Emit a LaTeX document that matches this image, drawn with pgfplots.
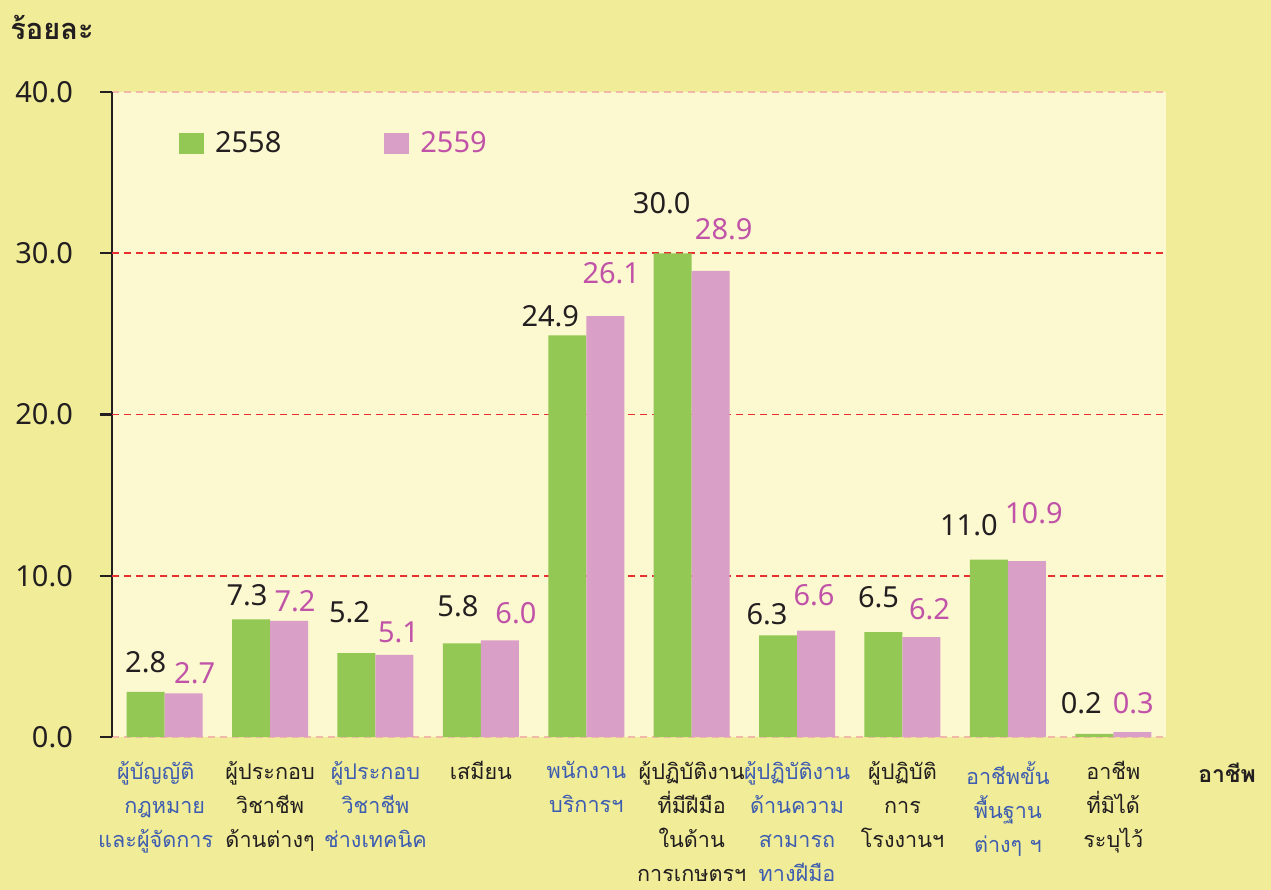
\documentclass[border=0pt]{standalone}
\usepackage{fontspec}
\setmainfont{Noto Sans}
\newfontfamily\thai[Script=Thai]{Loma}
\usepackage{pgfplots}
\pgfplotsset{compat=1.18}
\usepackage{pgfplotstable}
\definecolor{bgout}{HTML}{F0EC97}
\definecolor{bgin}{HTML}{FCF8D0}
\definecolor{cgreen}{HTML}{92C853}
\definecolor{cpink}{HTML}{DA9FC7}
\definecolor{ptext}{HTML}{C053A8}
\definecolor{tblue}{HTML}{3F5DB0}
\definecolor{tblack}{HTML}{231F20}
\definecolor{gridred}{HTML}{E83030}
\definecolor{gridfaint}{HTML}{F2B8A8}
\newcommand\B[1]{\textcolor{tblue}{#1}}
\newcommand\K[1]{\textcolor{tblack}{#1}}
\newcommand\BL[1]{\textcolor{tblue}{#1}\hspace*{9pt}}
\pgfplotsset{sqlegend/.style={legend image code/.code={\fill[##1] (0pt,-5.25pt) rectangle (12.5pt,5.25pt);}}}

\pgfplotstableread{
x y dx dy
0 2.8 0 9.5
1 7.3 -2 7
2 5.2 -3.5 15.5
3 5.8 -2 13.5
4 24.9 -8.5 4.5
5 30.0 -5.5 20
6 6.3 -5.5 5.5
7 6.5 -2.5 12.5
8 11.0 -10 12
9 0.2 -6.5 10
}\dataA
\pgfplotstableread{
x y dx dy
0 2.7 5.5 5
1 7.2 3 4.5
2 5.1 2 6
3 6.0 8 8.5
4 26.1 3 16.5
5 28.9 6.5 15.5
6 6.6 -1 12.5
7 6.2 4 9
8 10.9 3.5 19
9 0.3 0.5 9.5
}\dataB

\begin{document}
\begin{tikzpicture}
\fill[bgout, use as bounding box] (-56pt,-76.5pt) rectangle (579.5pt,368.5pt);
\begin{axis}[
  at={(0pt,0pt)}, anchor=south west,
  scale only axis, width=527pt, height=322.5pt,
  xmin=-0.5, xmax=9.5, ymin=0, ymax=40,
  axis background/.style={fill=bgin},
  ybar=0pt, bar width=0.3605,
  axis x line*=bottom, axis y line*=left,
  x axis line style={draw=none},
  y axis line style={draw=tblack, line width=1.1pt},
  xtick={0,...,9},
  xtick style={draw=none},
  xticklabels={
    {\BL{ผู้บัญญัติ}\\\BL{กฎหมาย}\\\BL{และผู้จัดการ}},
    {\K{ผู้ประกอบ}\\\K{วิชาชีพ}\\\K{ด้านต่างๆ}},
    {\B{ผู้ประกอบ}\\\B{วิชาชีพ}\\\B{ช่างเทคนิค}},
    {\K{เสมียน}},
    {\B{พนักงาน}\\\B{บริการฯ}},
    {\K{ผู้ปฏิบัติงาน}\\\K{ที่มีฝีมือ}\\\K{ในด้าน}\\\K{การเกษตรฯ}},
    {\B{ผู้ปฏิบัติงาน}\\\B{ด้านความ}\\\B{สามารถ}\\\B{ทางฝีมือ}},
    {\K{ผู้ปฏิบัติ}\\\K{การ}\\\K{โรงงานฯ}},
    {\B{อาชีพขั้น}\\\B{พื้นฐาน}\\\B{ต่างๆ ฯ}},
    {\K{อาชีพ}\\\K{ที่มิได้}\\\K{ระบุไว้}}
  },
  xticklabel style={font=\thai\fontsize{10.8}{17}\selectfont, align=center, anchor=north, inner sep=0pt, yshift=-6pt},
  ytick={0,10,20,30,40},
  tick align=outside,
  major tick length=6pt,
  ytick style={draw=tblack, line width=1.1pt},
  yticklabel style={font=\fontsize{14.5}{16}\selectfont, text=tblack, xshift=-10pt, /pgf/number format/.cd, fixed, fixed zerofill, precision=1, assume math mode=true},
  ymajorgrids,
  major grid style={draw=gridfaint, dash pattern=on 3.5pt off 2.5pt, line width=0.6pt},
  extra y ticks={10,20,30},
  extra y tick labels={},
  extra y tick style={major grid style={draw=gridred, dash pattern=on 3.5pt off 2.5pt, line width=0.8pt}},
  /pgf/number format/assume math mode=true,
  legend columns=2,
  legend style={at={(0.0636,0.92)}, anchor=west, draw=none, fill=none, inner sep=0pt, outer sep=0pt,
    font=\fontsize{14.5}{16}\selectfont,
    nodes={inner sep=0pt},
    /tikz/every odd column/.append style={column sep=5.5pt},
    /tikz/every even column/.append style={column sep=51.5pt}},
  sqlegend,
]
\addplot[fill=cgreen, draw=none, sqlegend,
  nodes near coords={\pgfmathprintnumber[fixed,fixed zerofill,precision=1]{\pgfplotspointmeta}},
  visualization depends on={\thisrow{dx}\as\dx},
  visualization depends on={\thisrow{dy}\as\dy},
  every node near coord/.append style={anchor=base, inner sep=0pt, xshift=\dx pt, yshift=\dy pt, text=tblack, font=\fontsize{14.5}{16}\selectfont}
] table[x=x,y=y]{\dataA};
\addlegendentry{\textcolor{tblack}{2558}}
\addplot[fill=cpink, draw=none, sqlegend,
  nodes near coords={\pgfmathprintnumber[fixed,fixed zerofill,precision=1]{\pgfplotspointmeta}},
  visualization depends on={\thisrow{dx}\as\dx},
  visualization depends on={\thisrow{dy}\as\dy},
  every node near coord/.append style={anchor=base, inner sep=0pt, xshift=\dx pt, yshift=\dy pt, text=ptext, font=\fontsize{14.5}{16}\selectfont}
] table[x=x,y=y]{\dataB};
\addlegendentry{\textcolor{ptext}{2559}}
\end{axis}
\node[anchor=base west, inner sep=0pt, font=\thai\bfseries\fontsize{14.5}{16}\selectfont, text=tblack] at (-51pt,348.5pt) {ร้อยละ};
\node[anchor=base, inner sep=0pt, font=\thai\bfseries\fontsize{11.5}{14}\selectfont, text=tblack] at (557.5pt,-22.5pt) {อาชีพ};
\end{tikzpicture}
\end{document}
